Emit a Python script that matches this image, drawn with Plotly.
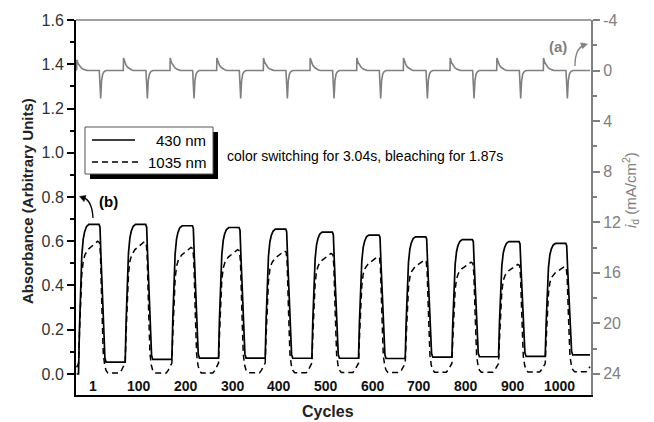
import plotly.graph_objects as go

# ---------------- data ----------------
cycle_labels = ["1", "100", "200", "300", "400", "500", "600", "700", "800", "900", "1000"]

# absorbance at 430 nm (solid): coloured plateau and bleached level per cycle
peak_430 = [0.676, 0.676, 0.670, 0.662, 0.655, 0.641, 0.628, 0.620, 0.607, 0.598, 0.590]
low_430 = [0.054, 0.066, 0.072, 0.072, 0.071, 0.071, 0.070, 0.076, 0.078, 0.080, 0.086]

# absorbance at 1035 nm (dashed)
peak_1035 = [0.600, 0.598, 0.572, 0.562, 0.556, 0.545, 0.530, 0.515, 0.505, 0.495, 0.485]
low_1035 = [0.004, 0.004, 0.005, 0.006, 0.006, 0.007, 0.007, 0.008, 0.008, 0.009, 0.010]

# current density spikes (mA/cm2): colouring (negative) and bleaching (positive)
spike_color = [-0.85, -1.0, -1.0, -1.0, -1.0, -1.0, -1.0, -1.0, -1.0, -1.0, -1.0]
spike_bleach = [2.2, 2.2, 2.2, 2.2, 2.2, 2.2, 2.2, 2.2, 2.2, 2.2, 2.2]

# tick labels
cur_ticks = [-4, 0, 4, 8, 12, 16, 20, 24]
abs_ticks = [0.0, 0.2, 0.4, 0.6, 0.8, 1.0, 1.2, 1.4, 1.6]

# shape of one cycle read from the first cycles (phase within cycle, fraction of swing)
rise_430 = [(0.00, 0.0), (0.04, 0.0), (0.06, 0.30), (0.08, 0.55), (0.11, 0.79), (0.14, 0.90),
            (0.17, 0.95), (0.21, 0.985), (0.26, 1.0), (0.48, 1.0)]
fall_430 = [(0.50, 0.98), (0.52, 0.78), (0.555, 0.42), (0.59, 0.10), (0.605, 0.03), (0.63, 0.0), (1.0, 0.0)]

rise_1035 = [(0.00, 0.05), (0.04, 0.08), (0.06, 0.30), (0.08, 0.55), (0.11, 0.75), (0.14, 0.85),
             (0.18, 0.90), (0.25, 0.94), (0.35, 0.97), (0.45, 1.0), (0.49, 0.99)]
fall_1035 = [(0.51, 0.90), (0.54, 0.50), (0.57, 0.15), (0.60, 0.06), (0.63, 0.02), (0.67, 0.0),
             (0.92, 0.0), (0.96, 0.02), (1.0, 0.05)]

cur_color = [(0.0, 0.0), (0.004, 1.0), (0.03, 0.65), (0.06, 0.42), (0.10, 0.24), (0.14, 0.12),
             (0.18, 0.05), (0.22, 0.015), (0.26, 0.0)]
cur_bleach = [(0.485, 0.0), (0.515, 1.0), (0.535, 0.35), (0.56, 0.12), (0.59, 0.04), (0.63, 0.0), (1.0, 0.0)]


def absorbance(peaks, lows, rise, fall, start):
    xs, ys = [], []
    prev = start
    for k in range(len(peaks)):
        for ph, fr in rise:
            xs.append(k + ph)
            ys.append(prev + fr * (peaks[k] - prev))
        for ph, fr in fall:
            xs.append(k + ph)
            ys.append(lows[k] + fr * (peaks[k] - lows[k]))
        prev = lows[k]
    return xs, ys


def current(ups, downs):
    xs, ys = [], []
    for k in range(len(ups)):
        for ph, fr in cur_color:
            xs.append(k + ph)
            ys.append(fr * ups[k])
        for ph, fr in cur_bleach:
            xs.append(k + ph)
            ys.append(fr * downs[k])
    return xs, ys


x1, y1 = absorbance(peak_430, low_430, rise_430, fall_430, 0.0)
x2, y2 = absorbance(peak_1035, low_1035, rise_1035, fall_1035, 0.0)
x3, y3 = current(spike_color, spike_bleach)

GRAY = "#808080"
FONT = "Liberation Sans, Arial, sans-serif"

fig = go.Figure()
fig.add_trace(go.Scatter(x=x3, y=y3, yaxis="y2", mode="lines",
                         line=dict(color=GRAY, width=1.6), showlegend=False))
fig.add_trace(go.Scatter(x=x1, y=y1, mode="lines", name="430 nm",
                         line=dict(color="black", width=1.7), showlegend=False))
fig.add_trace(go.Scatter(x=x2, y=y2, mode="lines", name="1035 nm",
                         line=dict(color="black", width=1.5, dash="6px,4px"), showlegend=False))

# plot area: x 76..591 px, y 20..395 px
L, R, T, B = 76, 591, 20, 395
W, H = R - L, B - T


def px(x):
    return (x - L) / W


def py(y):
    return (B - y) / H


def tri(pts):
    return "M " + " L ".join(f"{px(a)},{py(b)}" for a, b in pts) + " Z"


shapes = [
    dict(type="line", xref="paper", yref="paper", x0=0, x1=1, y0=1, y1=1,
         line=dict(color=GRAY, width=1.6)),
    # legend shadow and box
    dict(type="rect", xref="paper", yref="paper", x0=px(90), x1=px(218), y0=py(179), y1=py(132),
         fillcolor="black", line=dict(width=0)),
    dict(type="rect", xref="paper", yref="paper", x0=px(85), x1=px(213), y0=py(174), y1=py(127),
         fillcolor="white", line=dict(color="#555", width=1)),
    dict(type="line", xref="paper", yref="paper", x0=px(92), x1=px(135), y0=py(140), y1=py(140),
         line=dict(color="black", width=1.7)),
    dict(type="line", xref="paper", yref="paper", x0=px(92), x1=px(140), y0=py(162), y1=py(162),
         line=dict(color="black", width=1.5, dash="6px,4px")),
    # curved arrow shafts
    dict(type="path", xref="paper", yref="paper",
         path=f"M {px(93)},{py(218)} Q {px(92)},{py(200)} {px(83)},{py(197.5)}",
         line=dict(color="black", width=1.3)),
    dict(type="path", xref="paper", yref="paper",
         path=f"M {px(575)},{py(66)} Q {px(575)},{py(48)} {px(584)},{py(45.5)}",
         line=dict(color=GRAY, width=1.3)),
    # arrow heads
    dict(type="path", xref="paper", yref="paper", path=tri([(79.5, 196.5), (86, 195.4), (84, 201.6)]),
         fillcolor="black", line=dict(color="black", width=0.5)),
    dict(type="path", xref="paper", yref="paper", path=tri([(587.5, 44), (582.5, 48.8), (580.5, 42.8)]),
         fillcolor=GRAY, line=dict(color=GRAY, width=0.5)),
]

annotations = [
    dict(xref="paper", yref="paper", x=px(208), y=py(140), text="430 nm", showarrow=False,
         xanchor="right", yanchor="middle", font=dict(size=15, color="black", family=FONT)),
    dict(xref="paper", yref="paper", x=px(208), y=py(162), text="1035 nm", showarrow=False,
         xanchor="right", yanchor="middle", font=dict(size=15, color="black", family=FONT)),
    dict(xref="paper", yref="paper", x=px(225), y=py(156),
         text="color switching for 3.04s, bleaching for 1.87s", showarrow=False,
         xanchor="left", yanchor="middle", font=dict(size=14, color="black", family=FONT)),
    dict(xref="paper", yref="paper", x=px(108), y=py(201), text="<b>(b)</b>", showarrow=False,
         xanchor="center", yanchor="middle", font=dict(size=15, color="black", family=FONT)),
    dict(xref="paper", yref="paper", x=px(558), y=py(47), text="<b>(a)</b>", showarrow=False,
         xanchor="center", yanchor="middle", font=dict(size=15, color=GRAY, family=FONT)),
    # axis titles
    dict(xref="paper", yref="paper", x=px(27), y=py(201), text="<b>Absorbance (Arbitrary Units)</b>",
         textangle=-90, showarrow=False, xanchor="center", yanchor="middle",
         font=dict(size=15, color="#222", family=FONT)),
    dict(xref="paper", yref="paper", x=px(328), y=py(411), text="<b>Cycles</b>", showarrow=False,
         xanchor="center", yanchor="middle", font=dict(size=16, color="#222", family=FONT)),
    dict(xref="paper", yref="paper", x=px(630), y=py(190),
         text="<i>i</i><sub>d</sub> (mA/cm<sup>2</sup>)", textangle=-90, showarrow=False,
         xanchor="center", yanchor="middle", font=dict(size=15, color=GRAY, family=FONT)),
]

for k, lab in enumerate(cycle_labels):
    annotations.append(dict(x=k + 0.34, y=-0.055, xref="x", yref="y", text=f"<b>{lab}</b>",
                            showarrow=False, xanchor="center", yanchor="middle",
                            font=dict(size=14, color="#111", family=FONT)))

fig.update_layout(
    width=654, height=422,
    margin=dict(l=L, r=654 - R, t=T, b=422 - B),
    paper_bgcolor="white", plot_bgcolor="white",
    font=dict(family=FONT),
    xaxis=dict(range=[-0.014, (W / 46.67) - 0.014], showticklabels=False, ticks="",
               showline=True, linecolor="black", linewidth=2, showgrid=False, zeroline=False),
    yaxis=dict(range=[-0.095, 1.6], tickvals=abs_ticks,
               ticktext=[f"{v:.1f}" for v in abs_ticks],
               ticks="outside", ticklen=7, tickwidth=1.5, tickcolor="black",
               minor=dict(dtick=0.1, tick0=0, ticks="outside", ticklen=4, tickwidth=1.5, tickcolor="black"),
               showline=True, linecolor="black", linewidth=2, showgrid=False, zeroline=False,
               tickfont=dict(size=16, color="#333", family=FONT)),
    yaxis2=dict(range=[25.67, -4], overlaying="y", side="right",
                tickvals=cur_ticks, ticktext=[str(v) for v in cur_ticks],
                ticks="outside", ticklen=7, tickwidth=1.5, tickcolor=GRAY,
                minor=dict(dtick=2, tick0=0, ticks="outside", ticklen=4, tickwidth=1.5, tickcolor=GRAY),
                showline=True, linecolor=GRAY, linewidth=2, showgrid=False, zeroline=False,
                tickfont=dict(size=16, color=GRAY, family=FONT)),
    shapes=shapes,
    annotations=annotations,
    showlegend=False,
)

fig.write_html("out.html", config={"displayModeBar": False},
               post_script="document.body.style.margin='0';document.body.style.overflow='hidden';")
